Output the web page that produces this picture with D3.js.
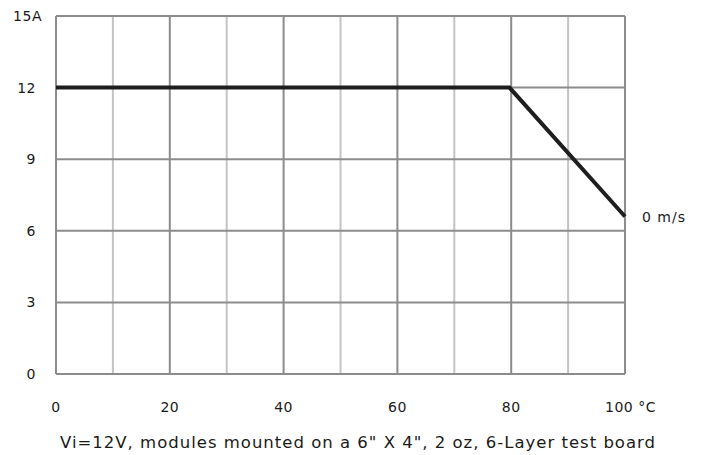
<!DOCTYPE html>
<html>
<head>
<meta charset="utf-8">
<script src="https://cdn.jsdelivr.net/npm/d3@7"></script>
<style>
  body { margin: 0; background: #fff; }
  text { font-family: "DejaVu Sans", Verdana, sans-serif; fill: #1a1a1a; }
</style>
</head>
<body>
<script>
var temps = [0, 79.7, 100];
var amps = [12, 12, 6.6];
var xTicks = [0, 20, 40, 60, 80, 100];
var xMinor = [10, 30, 50, 70, 90];
var yTicks = [0, 3, 6, 9, 12, 15];
var yLabels = ['0', '3', '6', '9', '12', '15A'];
var seriesName = '0 m/s';
var caption = 'Vi=12V, modules mounted on a 6" X 4", 2 oz, 6-Layer test board';

var margin = { top: 16, right: 79, bottom: 81, left: 56 };
var totalWidth = 704, totalHeight = 455;
var graphWidth = totalWidth - margin.left - margin.right;
var graphHeight = totalHeight - margin.top - margin.bottom;

var svg = d3.select('body')
  .append('svg')
  .attr('width', totalWidth)
  .attr('height', totalHeight);

var xScale = d3.scaleLinear().domain([0, 100]).range([0, graphWidth]);
var yScale = d3.scaleLinear().domain([0, 15]).range([graphHeight, 0]);

var mainGroup = svg.append('g')
  .attr('transform', 'translate(' + margin.left + ',' + margin.top + ')');

// minor vertical grid lines
mainGroup.selectAll('.minor')
  .data(xMinor)
  .enter()
  .append('line')
  .attr('x1', function(d) { return xScale(d); })
  .attr('x2', function(d) { return xScale(d); })
  .attr('y1', 0)
  .attr('y2', graphHeight)
  .attr('stroke', '#c4c4c4')
  .attr('stroke-width', 2);

// major vertical grid lines
mainGroup.selectAll('.major')
  .data(xTicks)
  .enter()
  .append('line')
  .attr('x1', function(d) { return xScale(d); })
  .attr('x2', function(d) { return xScale(d); })
  .attr('y1', 0)
  .attr('y2', graphHeight)
  .attr('stroke', '#8c8c8c')
  .attr('stroke-width', 2);

// horizontal grid lines
mainGroup.selectAll('.hgrid')
  .data(yTicks)
  .enter()
  .append('line')
  .attr('x1', 0)
  .attr('x2', graphWidth)
  .attr('y1', function(d) { return yScale(d); })
  .attr('y2', function(d) { return yScale(d); })
  .attr('stroke', '#8c8c8c')
  .attr('stroke-width', 2);

// derating curve
var points = temps.map(function(t, i) { return [t, amps[i]]; });
var line = d3.line()
  .x(function(d) { return xScale(d[0]); })
  .y(function(d) { return yScale(d[1]); });

mainGroup.append('path')
  .datum(points)
  .attr('d', line)
  .attr('fill', 'none')
  .attr('stroke', '#1e1e1e')
  .attr('stroke-width', 4)
  .attr('stroke-linejoin', 'miter');

// y labels
mainGroup.selectAll('.ylab')
  .data(yTicks)
  .enter()
  .append('text')
  .text(function(d, i) { return yLabels[i]; })
  .attr('x', function(d, i) { return i === yTicks.length - 1 ? -14 : -20; })
  .attr('y', function(d) { return yScale(d); })
  .attr('dy', '0.36em')
  .attr('text-anchor', 'end')
  .style('font-size', '14px')
  .style('letter-spacing', '0.5px');

// x labels
mainGroup.selectAll('.xlab')
  .data(xTicks)
  .enter()
  .append('text')
  .text(function(d) { return d === 100 ? d + ' °C' : d; })
  .attr('x', function(d) { return d === 100 ? xScale(d) - 20 : xScale(d); })
  .attr('y', graphHeight + 33)
  .attr('dy', '0.36em')
  .attr('text-anchor', function(d) { return d === 100 ? 'start' : 'middle'; })
  .style('font-size', '14px')
  .style('letter-spacing', '0.5px');

// series label
mainGroup.append('text')
  .text(seriesName)
  .attr('x', xScale(100) + 17)
  .attr('y', yScale(amps[amps.length - 1]))
  .attr('dy', '0.36em')
  .style('font-size', '14px')
  .style('letter-spacing', '1px');

// caption
svg.append('text')
  .text(caption)
  .attr('x', 358)
  .attr('y', 442)
  .attr('dy', '0.36em')
  .attr('text-anchor', 'middle')
  .style('font-size', '16.5px')
  .style('letter-spacing', '1px');
</script>
</body>
</html>
